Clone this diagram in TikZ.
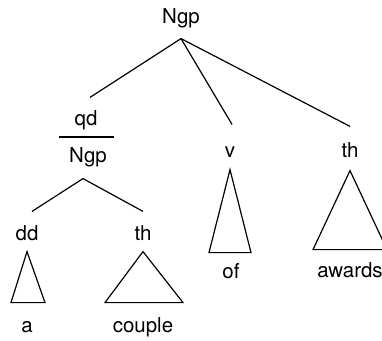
\documentclass[tikz,border=0pt]{standalone}
\usepackage{fontspec}
\setmainfont{TeX Gyre Heros}
\usetikzlibrary{calc}

\begin{document}
\begin{tikzpicture}[x=1pt,y=1pt,line width=1.2pt,lbl/.style={inner sep=0pt,anchor=base,text height=15pt,text depth=4.5pt,font=\fontsize{20.5}{24}\selectfont}]
\useasboundingbox (0,0) rectangle (382,340);
\foreach \n/\x/\y/\t in %
{ngpT/181/316/Ngp,qd/86/214/qd,ngpL/88/177/Ngp,dd/27/100/dd,thL/143/100/th,a/27/8/a,couple/143/8/couple,v/230/182/v,thR/350/182/th,of/231/62/of,awards/350/63/awards} {
   \node[lbl] (\n) at (\x,\y) {\t};
}
\draw ($(qd.base)+(-27,-11)$) -- ++(55,0);
\draw ([yshift=-9.5pt]ngpT.south) -- ([xshift=4pt,yshift=13pt]qd.north);
\draw ([yshift=-9.5pt]ngpT.south) -- ([xshift=2pt,yshift=18pt]v.north);
\draw ([yshift=-9.5pt]ngpT.south) -- ([yshift=16pt]thR.north);
\draw ([xshift=-5pt,yshift=-10.5pt]ngpL.south) -- ([xshift=5pt,yshift=13pt]dd.north);
\draw ([xshift=-5pt,yshift=-10.5pt]ngpL.south) -- ([yshift=13pt]thL.north);
\foreach \n/\d/\l/\h/\w in %
{dd/6.5/16/51/34,thL/6.5/38/51/78,v/6.5/21/83/42,thR/7.5/37/79/74} {
   \draw ([yshift=-\d pt]\n.south) -- ++(-\l,-\h) -- ++(\w,0) -- cycle;
}
\end{tikzpicture}
\end{document}
